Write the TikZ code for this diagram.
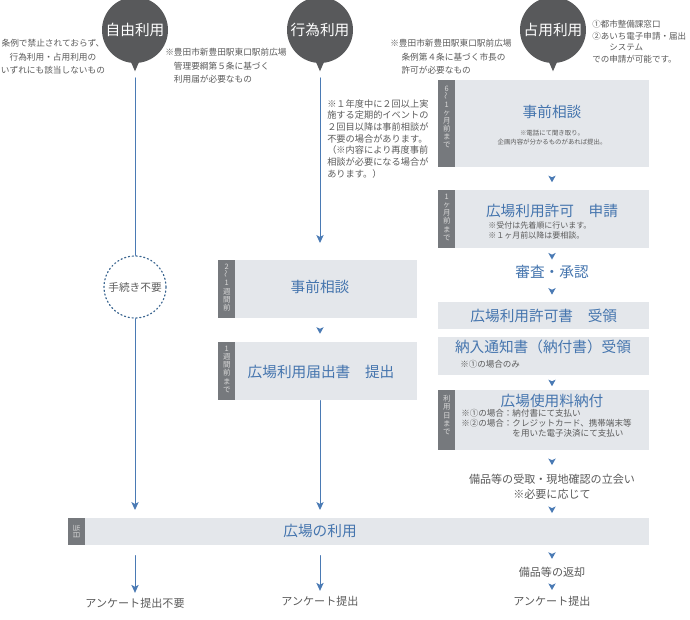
\documentclass[tikz,border=0pt]{standalone}
\usepackage{fontspec}
\usepackage{graphicx}
\setmainfont{Noto Sans CJK JP}
\usetikzlibrary{arrows.meta,decorations.markings}
\definecolor{flowblue}{HTML}{4A7AB4}
\definecolor{titleblue}{HTML}{4575AE}
\definecolor{panelgray}{HTML}{E4E7EB}
\definecolor{tabgray}{HTML}{76797D}
\definecolor{circgray}{HTML}{58595B}
\definecolor{notegray}{HTML}{5A5A5A}
\definecolor{dotblue}{HTML}{3A6590}
\newcommand{\wavebar}{\rotatebox{90}{〜}}

\begin{document}
\begin{tikzpicture}[x=0.75pt,y=-0.75pt,line cap=round,line join=round,
  kind/.style={circle,fill=circgray,minimum size=66*0.75pt,inner sep=0pt,text=white,font=\fontsize{11}{13}\selectfont},
  panel/.style 2 args={fill=panelgray,minimum width=#1*0.75pt,minimum height=#2*0.75pt,anchor=north west,inner sep=0pt},
  tabbox/.style={fill=tabgray,minimum width=17*0.75pt,minimum height=#1*0.75pt,anchor=north west,inner sep=0pt},
  tabtext/.style={text=white!85!black,font=\fontsize{5.6}{6.1}\selectfont,align=center,anchor=north,inner sep=0pt},
  ptitle/.style={text=titleblue,font=\fontsize{11}{13}\selectfont,inner sep=1pt},
  psub/.style={text=notegray,inner sep=0pt,align=left},
  note/.style={text=notegray,align=left,inner sep=0pt,font=\fontsize{6.5}{10.1}\selectfont},
  plain/.style={text=notegray,font=\fontsize{8.3}{11.25}\selectfont,inner sep=1pt,align=center},
  flow/.style={draw=flowblue,line width=0.75pt},
  flowarrow/.style={flow,-{Stealth[length=6pt,width=5.5pt,inset=1.5pt]}},
  gaparrow/.style={decoration={markings,mark=at position .5 with
    {\fill[flowblue] (-2.4pt,-2.8pt) -- (2.6pt,0pt) -- (-2.4pt,2.8pt) -- (-1.1pt,0pt) -- cycle;}},decorate}]
  \useasboundingbox (0,0) rectangle (690,619);

  % the three kinds of use
  \node[kind] (jiyu) at (135,30) {自由利用};
  \node[kind] (koui) at (320,30) {行為利用};
  \node[kind] (senyo) at (553,30) {占用利用};
  \foreach \c in {jiyu,koui,senyo}
    \fill[circgray] ([xshift=-3.5pt,yshift=2pt]\c.south) -- ([yshift=-6pt]\c.south)
      -- ([xshift=3.5pt,yshift=2pt]\c.south) -- cycle;

  \node[note,align=center,anchor=north] (jiyuN) at (53,39)
    {条例で禁止されておらず、\\行為利用・占用利用の\\いずれにも該当しないもの};
  \node[note,anchor=north west] (kouiN) at (165,48)
    {※豊田市新豊田駅東口駅前広場\\\hspace*{1em}管理要綱第５条に基づく\\\hspace*{1em}利用届が必要なもの};
  \node[note,anchor=north west] (senyoN) at (390,39)
    {※豊田市新豊田駅東口駅前広場\\\hspace*{1.3em}条例第４条に基づく市長の\\\hspace*{1.3em}許可が必要なもの};
  \node[note,font=\fontsize{6.4}{8.8}\selectfont,anchor=north west] (madoguchi) at (592,20)
    {①都市整備課窓口\\②あいち電子申請・届出\\\hspace*{2em}システム\\での申請が可能です。};
  \node[note,font=\fontsize{6.9}{8.8}\selectfont,anchor=north west] (kouiN2) at (327,99)
    {※１年度中に２回以上実\\施する定期的イベントの\\２回目以降は事前相談が\\不要の場合があります。\\（※内容により再度事前\\相談が必要になる場合が\\あります。）};

  % free use
  \node[circle,draw=dotblue,dotted,line width=0.9pt,minimum size=62*0.75pt,inner sep=0pt,
    text=notegray,font=\fontsize{8}{10}\selectfont] (free) at (135,287) {手続き不要};

  % act use
  \node[panel={199}{58}] (soudanM) at (218,260) {};
  \node[tabbox=58] (soudanMt) at (218,260) {};
  \node[tabtext] (soudanMl) at ([yshift=-3pt]soudanMt.north) {2\\\wavebar\\1\\週\\間\\前};
  \node[ptitle] (soudanMh) at (320,287) {事前相談};
  \node[panel={199}{58}] (todoke) at (218,342) {};
  \node[tabbox=58] (todoket) at (218,342) {};
  \node[tabtext] (todokel) at ([yshift=-3pt]todoket.north) {1\\週\\間\\前\\ま\\で};
  \node[ptitle] (todokeh) at (321,372) {広場利用届出書　提出};

  % occupation use
  \coordinate (rcol) at (552,0);
  \node[panel={211}{87}] (soudanR) at (438,80) {};
  \node[tabbox=87] (soudanRt) at (438,80) {};
  \node[tabtext] (soudanRl) at ([yshift=-4pt]soudanRt.north) {6\\\wavebar\\1\\ヶ\\月\\前\\ま\\で};
  \node[ptitle] (soudanRh) at (552,112) {事前相談};
  \node[psub,align=center,font=\fontsize{4.8}{6.8}\selectfont] (soudanRs) at (552,138)
    {※電話にて聞き取り。\\企画内容が分かるものがあれば提出。};

  \node[panel={211}{58}] (shinsei) at (438,190) {};
  \node[tabbox=58] (shinseit) at (438,190) {};
  \node[tabtext] (shinseil) at ([yshift=-3pt]shinseit.north) {1\\ヶ\\月\\前\\ま\\で};
  \node[ptitle] (shinseih) at (552,211) {広場利用許可　申請};
  \node[psub,anchor=north west,font=\fontsize{6}{7.5}\selectfont] (shinseis) at (488,221)
    {※受付は先着順に行います。\\※１ヶ月前以降は要相談。};

  \node[ptitle] (shinsa) at (552,272) {審査・承認};

  \node[panel={211}{27},text=titleblue,font=\fontsize{11}{13}\selectfont] (kyokasho) at (438,302) {広場利用許可書　受領};

  \node[panel={211}{38}] (tsuchi) at (438,337) {};
  \node[ptitle] (tsuchih) at (543,347) {納入通知書（納付書）受領};
  \node[psub,anchor=west,font=\fontsize{6.4}{7.5}\selectfont] (tsuchis) at (460,364) {※①の場合のみ};

  \node[panel={211}{60}] (nofu) at (438,390) {};
  \node[tabbox=60] (nofut) at (438,390) {};
  \node[tabtext] (noful) at ([yshift=-4pt]nofut.north) {利\\用\\日\\ま\\で};
  \node[ptitle] (nofuh) at (552,401) {広場使用料納付};
  \node[psub,anchor=north west,font=\fontsize{6.4}{7.5}\selectfont] (nofus) at (461,409)
    {※①の場合：納付書にて支払い\\※②の場合：クレジットカード、携帯端末等\\\phantom{※②の場合：}を用いた電子決済にて支払い};

  \node[plain] (uketori) at (552,487) {備品等の受取・現地確認の立会い\\※必要に応じて};

  % the day itself
  \node[panel={581}{27}] (riyo) at (68,518) {};
  \node[tabbox=27] (riyot) at (68,518) {};
  \node[tabtext,anchor=center,rotate=-90] (riyol) at (riyot) {当日};
  \node[ptitle] (riyoh) at (320,531) {広場の利用};

  \node[plain] (henkyaku) at (552,572) {備品等の返却};
  \node[plain] (q1) at (135,603) {アンケート提出不要};
  \node[plain] (q2) at (320,601) {アンケート提出};
  \node[plain] (q3) at (552,601) {アンケート提出};

  % connectors
  \draw[flow,shorten <=11pt] (jiyu) -- (free);
  \draw[flowarrow,shorten >=6pt] (free) -- (free |- riyo.north);
  \draw[flowarrow,shorten <=11pt,shorten >=12.75pt] (koui) -- (koui |- soudanM.north);
  \path[gaparrow] (soudanM.south -| koui) -- (todoke.north -| koui);
  \draw[flowarrow,shorten >=6pt] (todoke.south -| koui) -- (koui |- riyo.north);
  \draw[flowarrow,shorten <=7.5pt,shorten >=2.6pt] (riyo.south -| free) -- (q1);
  \draw[flowarrow,shorten <=7.5pt,shorten >=2.6pt] (riyo.south -| koui) -- (q2);

  \path[gaparrow] (soudanR.south -| rcol) -- (shinsei.north -| rcol);
  \path[gaparrow] (shinsei.south -| rcol) -- (shinsa);
  \path[gaparrow] (shinsa) -- (kyokasho.north -| rcol);
  \path[gaparrow] (tsuchi.south -| rcol) -- (nofu.north -| rcol);
  \path[gaparrow] (nofu.south -| rcol) -- (uketori);
  \path[gaparrow] (uketori) -- (riyo.north -| rcol);
  \path[gaparrow] (riyo.south -| rcol) -- (henkyaku);
  \path[gaparrow] (henkyaku) -- (q3);
\end{tikzpicture}
\end{document}
